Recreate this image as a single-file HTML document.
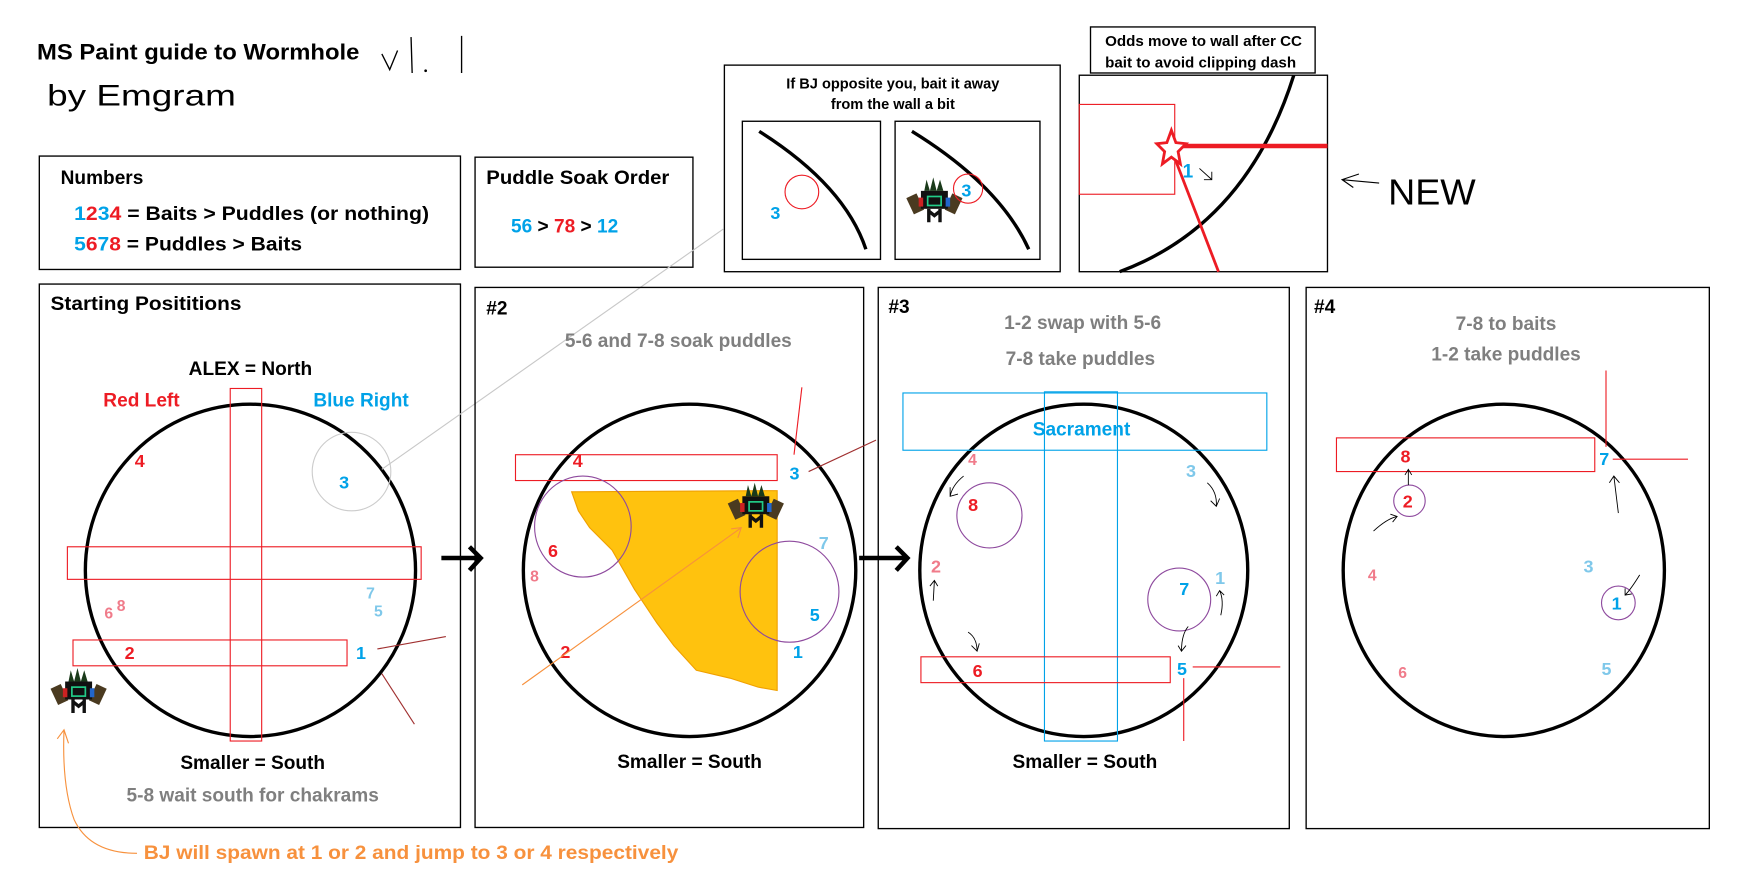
<!DOCTYPE html>
<html><head><meta charset="utf-8"><style>
html,body{margin:0;padding:0;background:#fff;}
svg{display:block;}
text{font-family:"Liberation Sans",sans-serif;font-weight:bold;}
.b{fill:#00a2e8}.r{fill:#ed1c24}.lb{fill:#7fc8ea}.pk{fill:#f07b8a}.g{fill:#7f7f7f}
.hand{font-weight:normal;fill:#000;}
</style></head><body>
<svg width="1752" height="878" viewBox="0 0 1560 782" preserveAspectRatio="none" xmlns="http://www.w3.org/2000/svg">
<defs>
<g id="bj">
<rect x="-22" y="-12" width="10" height="16" fill="#4a3a20" transform="rotate(-25)"/>
<rect x="12" y="-12" width="10" height="16" fill="#4a3a20" transform="rotate(25)"/>
<rect x="-12" y="-8" width="24" height="16" fill="#111"/>
<path d="M-9,-8 L-7,-18 L-4,-8 L-1,-20 L2,-8 L5,-18 L8,-8Z" fill="#1a3a1a"/>
<rect x="-6" y="-3" width="12" height="8" fill="none" stroke="#2c8" stroke-width="1.5"/>
<rect x="-14" y="-2" width="4" height="8" fill="#c22"/>
<rect x="10" y="-2" width="4" height="8" fill="#26c"/>
<path d="M-5,8 L-5,20 M5,8 L5,20 M-5,10 L0,14 L5,10" stroke="#111" stroke-width="3" fill="none"/>
</g>
</defs>
<rect width="1560" height="782" fill="#fff"/>

<text x="33" y="53" font-size="20" textLength="287" lengthAdjust="spacingAndGlyphs">MS Paint guide to Wormhole</text>
<path d="M340,48 L347,62 L354,45 M366,33 L367,65 M411,32 L411,65" stroke="#000" stroke-width="1.2" fill="none"/>
<circle cx="379" cy="63" r="1.2"/>
<text x="42" y="94" font-size="26" class="hand" textLength="168" lengthAdjust="spacingAndGlyphs">by Emgram</text>

<rect x="35" y="139" width="375" height="101" fill="none" stroke="#000" stroke-width="1.2"/>
<text x="54" y="164" font-size="17">Numbers</text>
<text x="66" y="196" font-size="17" textLength="316" lengthAdjust="spacingAndGlyphs"><tspan class="b">1</tspan><tspan class="r">2</tspan><tspan class="b">3</tspan><tspan class="r">4</tspan> = Baits &gt; Puddles (or nothing)</text>
<text x="66" y="223" font-size="17" textLength="203" lengthAdjust="spacingAndGlyphs"><tspan class="b">5</tspan><tspan class="r">6</tspan><tspan class="b">7</tspan><tspan class="r">8</tspan> = Puddles &gt; Baits</text>

<rect x="423" y="140" width="194" height="98" fill="none" stroke="#000" stroke-width="1.2"/>
<text x="433" y="164" font-size="17" textLength="163" lengthAdjust="spacingAndGlyphs">Puddle Soak Order</text>
<text x="455" y="207" font-size="17"><tspan class="b">56</tspan> &gt; <tspan class="r">78</tspan> &gt; <tspan class="b">12</tspan></text>

<rect x="645" y="58" width="299" height="184" fill="none" stroke="#000" stroke-width="1.2"/>
<text x="795" y="79" font-size="13" text-anchor="middle">If BJ opposite you, bait it away</text>
<text x="795" y="97" font-size="13" text-anchor="middle">from the wall a bit</text>
<rect x="661" y="108" width="123" height="123" fill="none" stroke="#000" stroke-width="1.2"/>
<rect x="797" y="108" width="129" height="123" fill="none" stroke="#000" stroke-width="1.2"/>
<path d="M676,117 Q752,165 771,222" stroke="#000" stroke-width="3" fill="none"/>
<path d="M812,117 Q890,165 916,222" stroke="#000" stroke-width="3" fill="none"/>
<circle cx="714" cy="171" r="15" fill="none" stroke="#ed1c24"/>
<text x="686" y="195" font-size="16" class="b">3</text>
<use href="#bj" x="832" y="178"/>
<circle cx="862" cy="168" r="13" fill="none" stroke="#ed1c24"/>
<text x="856" y="175" font-size="16" class="b">3</text>

<rect x="971" y="24" width="200" height="41" fill="none" stroke="#000" stroke-width="1.2"/>
<text x="984" y="41" font-size="13.5">Odds move to wall after CC</text>
<text x="984" y="60" font-size="13.5">bait to avoid clipping dash</text>
<rect x="961" y="67" width="221" height="175" fill="none" stroke="#000" stroke-width="1.2"/>
<path d="M1152,67 Q1110,200 997,242" stroke="#000" stroke-width="3" fill="none"/>
<rect x="961" y="93" width="85" height="80" fill="none" stroke="#ed1c24" stroke-width="1"/>
<line x1="1045" y1="130" x2="1182" y2="130" stroke="#ed1c24" stroke-width="4"/>
<line x1="1043" y1="133" x2="1085" y2="242" stroke="#ed1c24" stroke-width="2.5"/>
<polygon points="1043,116 1047,127 1056,128 1049,135 1051,146 1043,140 1035,146 1037,135 1030,128 1039,127" fill="#fff" stroke="#ed1c24" stroke-width="2.5"/>
<text x="1053" y="158" font-size="17" class="b">1</text>
<path d="M1068,150 L1079,160 M1072,160 L1079,160 L1079,153" stroke="#000" fill="none" stroke-width="0.8"/>
<path d="M1210,155 L1195,160 L1205,167 M1195,160 L1228,163" stroke="#000" fill="none" stroke-width="1"/>
<text x="1236" y="182" font-size="32" class="hand" textLength="78" lengthAdjust="spacingAndGlyphs">NEW</text>

<rect x="35" y="253" width="375" height="484" fill="none" stroke="#000" stroke-width="1.2"/>
<text x="45" y="276" font-size="17" textLength="170" lengthAdjust="spacingAndGlyphs">Starting Posititions</text>
<text x="223" y="334" font-size="17" text-anchor="middle">ALEX = North</text>
<text x="92" y="362" font-size="17" class="r">Red Left</text>
<text x="279" y="362" font-size="17" class="b">Blue Right</text>
<ellipse cx="223" cy="508" rx="147" ry="148" fill="none" stroke="#000" stroke-width="3"/>
<rect x="205" y="346" width="28" height="314" fill="none" stroke="#ed1c24" stroke-width="1"/>
<rect x="60" y="487" width="315" height="29" fill="none" stroke="#ed1c24" stroke-width="1"/>
<rect x="65" y="570" width="244" height="23" fill="none" stroke="#ed1c24" stroke-width="1"/>
<circle cx="313" cy="420" r="35" fill="none" stroke="#ccc"/>
<text x="120" y="416" font-size="16" class="r">4</text>
<text x="302" y="435" font-size="16" class="b">3</text>
<text x="93" y="551" font-size="14" class="pk">6</text><text x="104" y="544" font-size="14" class="pk">8</text>
<text x="326" y="533" font-size="14" class="lb">7</text><text x="333" y="549" font-size="14" class="lb">5</text>
<text x="111" y="587" font-size="16" class="r">2</text>
<text x="317" y="587" font-size="16" class="b">1</text>
<line x1="336" y1="578" x2="397" y2="567" stroke="#a03030" stroke-width="1"/>
<line x1="340" y1="600" x2="369" y2="645" stroke="#a03030" stroke-width="1"/>
<use href="#bj" x="70" y="615"/>
<text x="225" y="685" font-size="17" text-anchor="middle">Smaller = South</text>
<text x="225" y="714" font-size="17" text-anchor="middle" class="g">5-8 wait south for chakrams</text>
<path d="M122,760 Q80,760 66,730 Q55,700 57,650 M51,658 L57,650 L61,662" stroke="#f7913d" fill="none" stroke-width="1"/>
<text x="128" y="765" font-size="17" fill="#f7913d" textLength="476" lengthAdjust="spacingAndGlyphs">BJ will spawn at 1 or 2 and jump to 3 or 4 respectively</text>

<line x1="644" y1="204" x2="340" y2="418" stroke="#c8c8c8" stroke-width="1"/>
<path d="M393,497 L426,497 M418,487 L428,497 L418,508" stroke="#000" stroke-width="4" fill="none"/>

<rect x="423" y="256" width="346" height="481" fill="none" stroke="#000" stroke-width="1.2"/>
<text x="433" y="280" font-size="17">#2</text>
<text x="604" y="309" font-size="17" text-anchor="middle" class="g">5-6 and 7-8 soak puddles</text>
<polygon points="509,438 692,437 692,615 675,612 650,604 620,597 600,575 585,555 565,525 545,490 525,470 515,455" fill="#ffc20e" stroke="#f0a000" stroke-width="1"/>
<ellipse cx="614" cy="508" rx="148" ry="148" fill="none" stroke="#000" stroke-width="3"/>
<rect x="459" y="405" width="233" height="23" fill="none" stroke="#ed1c24" stroke-width="1"/>
<ellipse cx="519" cy="469" rx="43" ry="45" fill="none" stroke="#8e4a9e"/>
<ellipse cx="703" cy="527" rx="44" ry="45" fill="none" stroke="#8e4a9e"/>
<text x="510" y="416" font-size="16" class="r">4</text>
<text x="703" y="427" font-size="16" class="b">3</text>
<text x="488" y="496" font-size="16" class="r">6</text>
<text x="472" y="518" font-size="14" class="pk">8</text>
<text x="729" y="489" font-size="16" class="lb">7</text>
<text x="721" y="553" font-size="16" class="b">5</text>
<text x="499" y="586" font-size="16" class="r">2</text>
<text x="706" y="586" font-size="16" class="b">1</text>
<path d="M465,610 L660,470 M651,471 L660,470 L657,479" stroke="#f7913d" stroke-width="1" fill="none"/>
<use href="#bj" x="673" y="450"/>
<line x1="714" y1="345" x2="707" y2="405" stroke="#ed1c24" stroke-width="1"/>
<line x1="720" y1="420" x2="780" y2="392" stroke="#a03030" stroke-width="1"/>
<text x="614" y="684" font-size="17" text-anchor="middle">Smaller = South</text>

<path d="M765,497 L806,497 M798,487 L808,497 L798,508" stroke="#000" stroke-width="4" fill="none"/>

<rect x="782" y="256" width="366" height="482" fill="none" stroke="#000" stroke-width="1.2"/>
<text x="791" y="279" font-size="17">#3</text>
<text x="964" y="293" font-size="17" text-anchor="middle" class="g">1-2 swap with 5-6</text>
<text x="962" y="325" font-size="17" text-anchor="middle" class="g">7-8 take puddles</text>
<ellipse cx="965" cy="508" rx="146" ry="148" fill="none" stroke="#000" stroke-width="3"/>
<rect x="804" y="350" width="324" height="51" fill="none" stroke="#00a2e8" stroke-width="1"/>
<rect x="930" y="349" width="65" height="311" fill="none" stroke="#00a2e8" stroke-width="1"/>
<text x="963" y="388" font-size="17" text-anchor="middle" class="b">Sacrament</text>
<rect x="820" y="585" width="222" height="23" fill="none" stroke="#ed1c24" stroke-width="1"/>
<line x1="1062" y1="594" x2="1140" y2="594" stroke="#ed1c24" stroke-width="1"/>
<line x1="1054" y1="604" x2="1054" y2="660" stroke="#ed1c24" stroke-width="1"/>
<circle cx="881" cy="459" r="29" fill="none" stroke="#8e4a9e"/>
<circle cx="1050" cy="534" r="28" fill="none" stroke="#8e4a9e"/>
<text x="862" y="414" font-size="14" class="pk">4</text>
<text x="1056" y="425" font-size="16" class="lb">3</text>
<text x="862" y="455" font-size="16" class="r">8</text>
<text x="829" y="510" font-size="16" class="pk">2</text>
<text x="1050" y="530" font-size="16" class="b">7</text>
<text x="1082" y="520" font-size="16" class="lb">1</text>
<text x="866" y="603" font-size="16" class="r">6</text>
<text x="1048" y="601" font-size="16" class="b">5</text>
<g stroke="#000" stroke-width="0.8" fill="none">
<path d="M858,424 Q848,432 846,442 M846,434 L846,442 L853,440"/>
<path d="M1075,430 Q1084,438 1083,451 M1078,446 L1083,451 L1086,444"/>
<path d="M831,535 L832,517 M828,522 L832,517 L835,522"/>
<path d="M1087,548 Q1090,535 1086,526 M1083,531 L1086,526 L1090,530"/>
<path d="M862,563 Q870,568 870,580 M865,575 L870,580 L872,573"/>
<path d="M1058,558 Q1052,565 1052,580 M1049,575 L1052,580 L1056,575"/>
</g>
<text x="966" y="684" font-size="17" text-anchor="middle">Smaller = South</text>

<rect x="1163" y="256" width="359" height="482" fill="none" stroke="#000" stroke-width="1.2"/>
<text x="1170" y="279" font-size="17">#4</text>
<text x="1341" y="294" font-size="17" text-anchor="middle" class="g">7-8 to baits</text>
<text x="1341" y="321" font-size="17" text-anchor="middle" class="g">1-2 take puddles</text>
<ellipse cx="1339" cy="508" rx="143" ry="148" fill="none" stroke="#000" stroke-width="3"/>
<rect x="1190" y="390" width="230" height="30" fill="none" stroke="#ed1c24" stroke-width="1"/>
<line x1="1430" y1="330" x2="1430" y2="398" stroke="#ed1c24" stroke-width="1"/>
<line x1="1436" y1="409" x2="1503" y2="409" stroke="#ed1c24" stroke-width="1"/>
<circle cx="1255" cy="446" r="14" fill="none" stroke="#8e4a9e"/>
<circle cx="1441" cy="537" r="15" fill="none" stroke="#8e4a9e"/>
<text x="1247" y="412" font-size="16" class="r">8</text>
<text x="1424" y="414" font-size="16" class="b">7</text>
<text x="1249" y="452" font-size="16" class="r">2</text>
<text x="1218" y="517" font-size="14" class="pk">4</text>
<text x="1410" y="510" font-size="16" class="lb">3</text>
<text x="1435" y="543" font-size="16" class="b">1</text>
<text x="1245" y="604" font-size="14" class="pk">6</text>
<text x="1426" y="601" font-size="16" class="lb">5</text>
<g stroke="#000" stroke-width="0.8" fill="none">
<path d="M1254,432 L1254,418 M1251,423 L1254,418 L1257,423"/>
<path d="M1223,473 Q1235,462 1244,460 M1238,458 L1244,460 L1240,465"/>
<path d="M1441,457 L1437,424 M1433,430 L1437,424 L1442,430"/>
<path d="M1460,512 Q1452,525 1447,530 M1447,524 L1447,530 L1453,529"/>
</g>
</svg>
</body></html>
